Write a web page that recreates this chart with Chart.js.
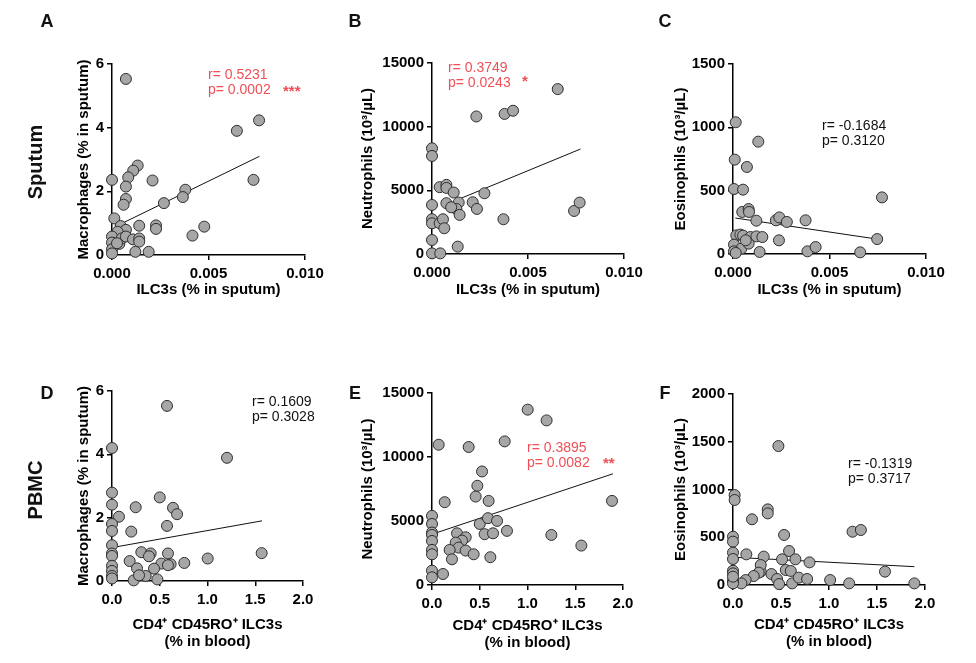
<!DOCTYPE html>
<html>
<head>
<meta charset="utf-8">
<script src="https://cdn.jsdelivr.net/npm/chart.js@4.4.0/dist/chart.umd.min.js"></script>
<style>
body{margin:0;background:#fff;width:976px;height:663px;position:relative;overflow:hidden;font-family:"Liberation Sans",Arial,sans-serif;color:#111}
canvas{position:absolute;left:0;top:0}
.lbl{position:absolute;font-weight:bold;font-size:18px;transform:translate(-50%,-50%)}
.row{position:absolute;font-weight:bold;font-size:20px;transform:translate(-50%,-50%) rotate(-90deg);white-space:nowrap}
.stat{position:absolute;font-size:14px;line-height:15px;white-space:nowrap}
.red{color:#ef5058}
.star{position:absolute;font-size:15px;font-weight:bold;color:#ef5058}
</style>
</head>
<body>
<canvas id="cA" width="976" height="663"></canvas>
<canvas id="cB" width="976" height="663"></canvas>
<canvas id="cC" width="976" height="663"></canvas>
<canvas id="cD" width="976" height="663"></canvas>
<canvas id="cE" width="976" height="663"></canvas>
<canvas id="cF" width="976" height="663"></canvas>

<div class="lbl" style="left:47px;top:21px">A</div>
<div class="lbl" style="left:355px;top:21px">B</div>
<div class="lbl" style="left:665px;top:21px">C</div>
<div class="lbl" style="left:47px;top:393px">D</div>
<div class="lbl" style="left:355px;top:393px">E</div>
<div class="lbl" style="left:665px;top:393px">F</div>
<div class="row" style="left:35px;top:162px">Sputum</div>
<div class="row" style="left:35px;top:490px">PBMC</div>

<div class="stat red" style="left:208px;top:67px">r= 0.5231<br>p= 0.0002</div>
<div class="star" style="left:283px;top:82px">***</div>
<div class="stat red" style="left:448px;top:60px">r= 0.3749<br>p= 0.0243</div>
<div class="star" style="left:522px;top:72px">*</div>
<div class="stat" style="left:822px;top:118px">r= -0.1684<br>p= 0.3120</div>
<div class="stat" style="left:252px;top:394px">r= 0.1609<br>p= 0.3028</div>
<div class="stat red" style="left:527px;top:440px">r= 0.3895<br>p= 0.0082</div>
<div class="star" style="left:603px;top:454px">**</div>
<div class="stat" style="left:848px;top:456px">r= -0.1319<br>p= 0.3717</div>

<script>
// sputum ILC3s vs macrophages (A)
const xA = [0.00072, 0.00762, 0.00647, 0.00733, 0, 0.00133, 0.0011, 0.00084, 0.00072, 0.00072, 0.0006, 0.0021, 0.0038, 0.00367, 0.00269, 0.00478, 0.00417, 0.00228, 0.00228, 0.00141, 0.00012, 0.00045, 0.00072, 0.00029, 0, 0, 0, 0, 0.00038, 0.0005, 0.00072, 0.00109, 0.00141, 0.00141, 0.00121, 0.0019, 0.00026];
const yA = [5.53, 4.23, 3.90, 2.36, 2.36, 2.81, 2.65, 2.44, 2.15, 1.76, 1.58, 2.34, 2.05, 1.82, 1.63, 0.89, 0.61, 0.93, 0.82, 0.92, 1.15, 0.91, 0.79, 0.73, 0.58, 0.39, 0.18, 0.05, 0.35, 0.52, 0.58, 0.49, 0.52, 0.42, 0.10, 0.10, 0.37];
const fitAx = [0.00017, 0.00764];
const fitAy = [0.89, 3.10];

// sputum ILC3s vs neutrophils (B)
const xB = [0.00655, 0.00231, 0.00378, 0.00422, 0, 0, 0.0004, 0.00075, 0.00075, 0.00113, 0.00273, 0, 0.00075, 0.00139, 0.00127, 0.00144, 0.00212, 0.00234, 0.00372, 0.0074, 0.00769, 0, 0, 0.0004, 0.00057, 0.00064, 0, 0, 0.00043, 0.00134, 0.001];
const yB = [12950, 10800, 11000, 11250, 8300, 7700, 5250, 5430, 5190, 4830, 4770, 3850, 3990, 4040, 3540, 3070, 4060, 3540, 2730, 3380, 4040, 2730, 2410, 2410, 2730, 2020, 1100, 50, 50, 580, 3670];
const fitBx = [0.00139, 0.00773];
const fitBy = [4300, 8240];

// sputum ILC3s vs eosinophils (C)
const xC = [0.00014, 0.00131, 0.00009, 0.00072, 0.00005, 0.00052, 0.00772, 0.00048, 0.00081, 0.00083, 0.00121, 0.00222, 0.0024, 0.00279, 0.00376, 0.00017, 0.00038, 0.00052, 0.0009, 0.00121, 0.00152, 0.00238, 0.00747, 0.00005, 0.00043, 0.00081, 0.00005, 0.00014, 0.00138, 0.00386, 0.00428, 0.00659, 0.00066];
const yC = [1040, 887, 745, 687, 513, 508, 447, 332, 355, 332, 263, 266, 289, 253, 266, 147, 153, 145, 134, 139, 134, 108, 118, 74, 42, 82, 21, 8, 16, 21, 55, 13, 108];
const fitCx = [0.00012, 0.00745];
const fitCy = [284, 118];

// blood CD4+ CD45RO+ ILC3s vs macrophages (D)
const xD = [0.576, 0, 1.204, 0, 0, 0.073, 0, 0, 0.5, 0.248, 0.639, 0.681, 0.576, 0.202, 0, 0, 0, 0.307, 0.405, 0.387, 0.586, 1.567, 1.002, 0.757, 0.185, 0.517, 0.614, 0.586, 0.262, 0.44, 0, 0, 0, 0, 0.353, 0.227, 0.475, 0.283];
const yD = [5.53, 4.20, 3.89, 2.79, 2.41, 2.03, 1.80, 1.58, 2.64, 2.33, 2.31, 2.11, 1.74, 1.56, 1.13, 0.87, 0.79, 0.91, 0.87, 0.78, 0.87, 0.88, 0.71, 0.57, 0.63, 0.55, 0.53, 0.50, 0.40, 0.39, 0.48, 0.32, 0.16, 0.08, 0.16, 0.02, 0.05, 0.18];
const fitDx = [0.01, 1.571];
const fitDy = [1.06, 1.90];

// blood ILC3s vs neutrophils (E)
const xE = [1.002, 1.2, 0.07, 0.384, 0.761, 0.524, 0.475, 0.457, 0.133, 0.593, 1.885, 0, 0, 0, 0, 0, 0, 0, 0, 0, 0.115, 0.5, 0.586, 0.681, 0.551, 0.639, 0.785, 0.262, 0.353, 0.314, 0.248, 0.279, 0.185, 0.353, 0.436, 0.611, 0.209, 1.25, 1.564];
const yE = [13700, 12860, 10960, 10780, 11220, 8870, 7750, 6910, 6470, 6570, 6570, 5400, 4770, 4100, 3910, 3440, 2740, 2400, 1120, 600, 860, 4770, 5220, 5010, 3970, 4040, 4230, 4040, 3730, 3470, 3310, 2920, 2740, 2690, 2400, 2170, 2010, 3910, 3080];
const fitEx = [0.01, 1.895];
const fitEy = [3990, 8690];

// blood ILC3s vs eosinophils (F)
const xF = [0.473, 0.017, 0.017, 0.362, 0.362, 0.198, 1.245, 1.332, 0.532, 0, 0, 0, 0.139, 0.32, 0.584, 0.511, 0.65, 0.797, 0, 0, 0, 0.289, 0.289, 0.268, 0.216, 0.4, 0.55, 0.602, 0.459, 0.48, 0.616, 0.685, 0.772, 1.012, 1.21, 1.583, 1.889, 0.132, 0.087, 0, 0, 0];
const yF = [1455, 942, 890, 792, 750, 688, 558, 576, 524, 506, 454, 339, 321, 297, 356, 269, 269, 237, 272, 150, 122, 140, 209, 129, 94, 115, 157, 147, 63, 10, 17, 77, 63, 52, 17, 140, 17, 52, 17, 42, 17, 87];
const fitFx = [0.017, 1.889];
const fitFy = [290, 192];

// tick values + labels
const sputumTicks = [0, 0.005, 0.01];
const sputumLabels = ['0.000', '0.005', '0.010'];
const bloodTicks = [0, 0.5, 1, 1.5, 2];
const bloodLabels = ['0.0', '0.5', '1.0', '1.5', '2.0'];
const macroTicks = [0, 2, 4, 6];
const neutroTicks = [0, 5000, 10000, 15000];
const eosTicksC = [0, 500, 1000, 1500];
const eosTicksF = [0, 500, 1000, 1500, 2000];

const FONT = '"Liberation Sans", Arial, sans-serif';

function pts(xs, ys) {
  return xs.map((x, i) => ({x: x, y: ys[i]}));
}

function axisStyle() {
  return {
    grid: {drawOnChartArea: false, drawTicks: true, tickLength: 5, color: '#000', lineWidth: 1.5},
    border: {display: true, color: '#000', width: 1.5}
  };
}

function panel(id, p) {
  const multi = Array.isArray(p.xTitle);
  const xlh = multi ? 17 : 18;
  const padLeft = p.ytx - 9;
  const boxBottom = p.xty + xlh / 2;
  new Chart(document.getElementById(id), {
    type: 'scatter',
    data: {
      datasets: [{
        data: pts(p.xs, p.ys),
        pointRadius: 5.5, pointHoverRadius: 5.5,
        backgroundColor: '#a6a6a6', borderColor: '#2e2e2e', borderWidth: 1,
        clip: false, order: 1
      }, {
        type: 'line',
        data: pts(p.fx, p.fy),
        borderColor: '#111', borderWidth: 1, pointRadius: 0,
        clip: false, order: 2
      }]
    },
    options: {
      responsive: false,
      animation: false,
      events: [],
      plugins: {legend: {display: false}, tooltip: {enabled: false}},
      layout: {padding: {left: padLeft, top: p.T, right: 976 - p.R, bottom: 663 - boxBottom}},
      scales: {
        x: Object.assign(axisStyle(), {
          type: 'linear', min: p.xTicks[0], max: p.xTicks[p.xTicks.length - 1],
          afterBuildTicks: s => { s.ticks = p.xTicks.map(v => ({value: v})); },
          afterFit: s => { s.height = boxBottom - p.B; },
          ticks: {
            color: '#000', padding: 5, maxRotation: 0, autoSkip: false,
            font: {family: FONT, size: 15, weight: 'bold'},
            callback: (v, i) => p.xLabels[i]
          },
          title: {
            display: true, text: p.xTitle, color: '#000', padding: 0,
            font: {family: FONT, size: 15, weight: 'bold', lineHeight: multi ? 17 / 15 : 1.2}
          }
        }),
        y: Object.assign(axisStyle(), {
          type: 'linear', min: p.yTicks[0], max: p.yTicks[p.yTicks.length - 1],
          afterBuildTicks: s => { s.ticks = p.yTicks.map(v => ({value: v})); },
          afterFit: s => { s.width = p.L - padLeft; },
          ticks: {
            color: '#000', padding: 3, autoSkip: false,
            font: {family: FONT, size: 15, weight: 'bold'},
            callback: v => String(v)
          },
          title: {
            display: true, text: p.yTitle, color: '#000', padding: 0,
            font: {family: FONT, size: 15, weight: 'bold', lineHeight: 1.2}
          }
        })
      }
    }
  });
}

const sputumX = 'ILC3s (% in sputum)';
const bloodX = ['CD4\u207A CD45RO\u207A ILC3s', '(% in blood)'];
const macroY = 'Macrophages (% in sputum)';
const neutroY = 'Neutrophils (10\u00B3/\u00B5L)';
const eosY = 'Eosinophils (10\u00B3/\u00B5L)';

panel('cA', {xs: xA, ys: yA, fx: fitAx, fy: fitAy, L: 112, T: 64, R: 305, B: 255, ytx: 84, xty: 290,
  xTicks: sputumTicks, xLabels: sputumLabels, yTicks: macroTicks, xTitle: sputumX, yTitle: macroY});
panel('cB', {xs: xB, ys: yB, fx: fitBx, fy: fitBy, L: 432, T: 63, R: 624, B: 254, ytx: 368, xty: 290,
  xTicks: sputumTicks, xLabels: sputumLabels, yTicks: neutroTicks, xTitle: sputumX, yTitle: neutroY});
panel('cC', {xs: xC, ys: yC, fx: fitCx, fy: fitCy, L: 733, T: 64, R: 926, B: 254, ytx: 681, xty: 290,
  xTicks: sputumTicks, xLabels: sputumLabels, yTicks: eosTicksC, xTitle: sputumX, yTitle: eosY});
panel('cD', {xs: xD, ys: yD, fx: fitDx, fy: fitDy, L: 112, T: 391, R: 303, B: 581, ytx: 84, xty: 642,
  xTicks: bloodTicks, xLabels: bloodLabels, yTicks: macroTicks, xTitle: bloodX, yTitle: macroY});
panel('cE', {xs: xE, ys: yE, fx: fitEx, fy: fitEy, L: 432, T: 393, R: 623, B: 585, ytx: 368, xty: 643,
  xTicks: bloodTicks, xLabels: bloodLabels, yTicks: neutroTicks, xTitle: bloodX, yTitle: neutroY});
panel('cF', {xs: xF, ys: yF, fx: fitFx, fy: fitFy, L: 733, T: 394, R: 925, B: 585, ytx: 681, xty: 642,
  xTicks: bloodTicks, xLabels: bloodLabels, yTicks: eosTicksF, xTitle: bloodX, yTitle: eosY});
</script>
</body>
</html>
